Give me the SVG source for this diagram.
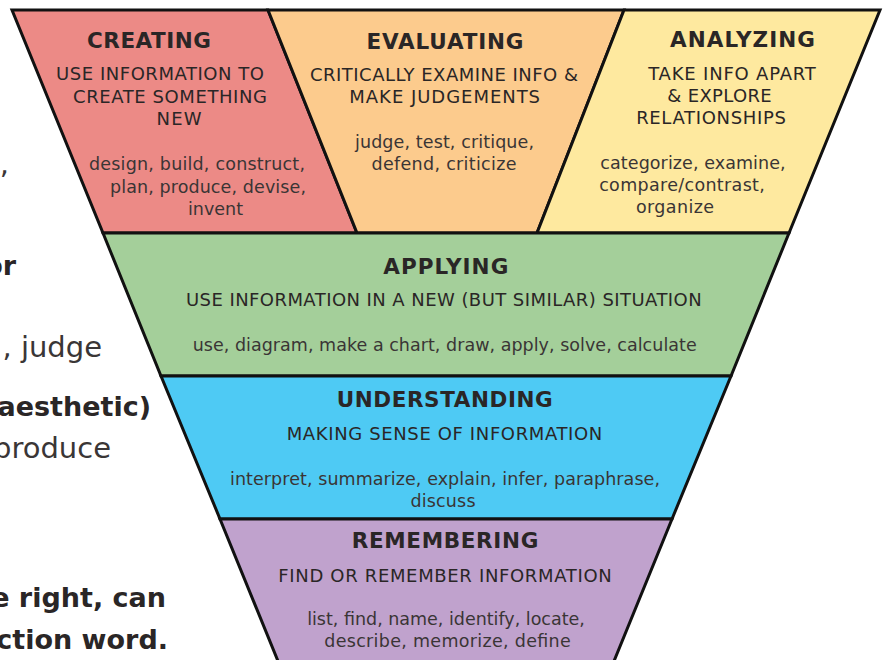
<svg xmlns="http://www.w3.org/2000/svg" width="883" height="660" viewBox="0 0 883 660">
  <style>
    .band { stroke: #111; stroke-width: 3; stroke-linejoin: miter; }
    .title { font-family: "DejaVu Sans", "Liberation Sans", sans-serif; font-weight: bold; font-size: 21.5px; fill: #2a2626; text-anchor: middle; }
    .sub { font-family: "DejaVu Sans", "Liberation Sans", sans-serif; font-size: 18px; fill: #2a2626; text-anchor: middle; }
    .body { font-family: "DejaVu Sans", "Liberation Sans", sans-serif; font-size: 17.5px; fill: #3a3535; text-anchor: middle; }
    .page { font-family: "DejaVu Sans", "Liberation Sans", sans-serif; font-size: 29px; fill: #3a3636; text-anchor: end; }
    .page-b { font-family: "DejaVu Sans", "Liberation Sans", sans-serif; font-size: 27px; font-weight: bold; fill: #2a2626; text-anchor: end; }
  </style>

  <rect width="883" height="660" fill="#ffffff"/>

  <!-- page text running behind the pyramid, cut off at the left edge -->
  <g id="page-text">
    <text class="page" x="9" y="174">y,</text>
    <text class="page-b" x="16" y="275">or</text>
    <text class="page" x="102" y="357">, judge</text>
    <text class="page-b" x="151" y="416">aesthetic)</text>
    <text class="page" x="111" y="458">produce</text>
    <text class="page-b" x="166" y="607">e right, can</text>
    <text class="page-b" x="168" y="649">ction word.</text>
  </g>

  <!-- top row: three slanted cells -->
  <g id="creating">
    <polygon class="band" fill="#ec8a86" points="12,10 268,10 357,233 103,233"/>
    <text class="title" x="149" y="47.5" textLength="124">CREATING</text>
    <text class="sub" x="160" y="80" textLength="208">USE INFORMATION TO</text>
    <text class="sub" x="170" y="102.5" textLength="194">CREATE SOMETHING</text>
    <text class="sub" x="179" y="124.5" textLength="45">NEW</text>
    <text class="body" x="197" y="170" textLength="216">design, build, construct,</text>
    <text class="body" x="208" y="192.5" textLength="196">plan, produce, devise,</text>
    <text class="body" x="215.5" y="215" textLength="55">invent</text>
  </g>

  <g id="evaluating">
    <polygon class="band" fill="#fccb8d" points="268,10 624,10 537,233 357,233"/>
    <text class="title" x="445" y="48.5" textLength="157">EVALUATING</text>
    <text class="sub" x="444" y="81" textLength="268">CRITICALLY EXAMINE INFO &amp;</text>
    <text class="sub" x="444.7" y="103" textLength="190.7">MAKE JUDGEMENTS</text>
    <text class="body" x="444.5" y="148" textLength="179">judge, test, critique,</text>
    <text class="body" x="444" y="170" textLength="145">defend, criticize</text>
  </g>

  <g id="analyzing">
    <polygon class="band" fill="#fee99f" points="624,10 880,10 789,233 537,233"/>
    <text class="title" x="742.5" y="46.5" textLength="145">ANALYZING</text>
    <text class="sub" x="732" y="79.5" textLength="167.7">TAKE INFO APART</text>
    <text class="sub" x="719.5" y="102" textLength="104.4">&amp; EXPLORE</text>
    <text class="sub" x="711" y="124" textLength="149.7">RELATIONSHIPS</text>
    <text class="body" x="693" y="168.5" textLength="185.3">categorize, examine,</text>
    <text class="body" x="682" y="190.5" textLength="165.7">compare/contrast,</text>
    <text class="body" x="675" y="212.5" textLength="78">organize</text>
  </g>

  <!-- lower tiers of the funnel -->
  <g id="applying">
    <polygon class="band" fill="#a4cf9a" points="103,233 789,233 731,376 161,376"/>
    <text class="title" x="445.8" y="274" textLength="125">APPLYING</text>
    <text class="sub" x="443.8" y="306" textLength="515.7">USE INFORMATION IN A NEW (BUT SIMILAR) SITUATION</text>
    <text class="body" x="444.7" y="351" textLength="504">use, diagram, make a chart, draw, apply, solve, calculate</text>
  </g>

  <g id="understanding">
    <polygon class="band" fill="#4ecaf4" points="161,376 731,376 672,519 220,519"/>
    <text class="title" x="444.7" y="407" textLength="216">UNDERSTANDING</text>
    <text class="sub" x="444.5" y="440" textLength="315.6">MAKING SENSE OF INFORMATION</text>
    <text class="body" x="445" y="485" textLength="430">interpret, summarize, explain, infer, paraphrase,</text>
    <text class="body" x="443" y="506.7" textLength="65">discuss</text>
  </g>

  <g id="remembering">
    <polygon class="band" fill="#c0a2cd" points="220,519 672,519 612,666 280,666"/>
    <text class="title" x="445" y="548" textLength="186.6">REMEMBERING</text>
    <text class="sub" x="445" y="581.5" textLength="333.4">FIND OR REMEMBER INFORMATION</text>
    <text class="body" x="446" y="625" textLength="277.7">list, find, name, identify, locate,</text>
    <text class="body" x="447.5" y="646.7" textLength="246.4">describe, memorize, define</text>
  </g>
</svg>
